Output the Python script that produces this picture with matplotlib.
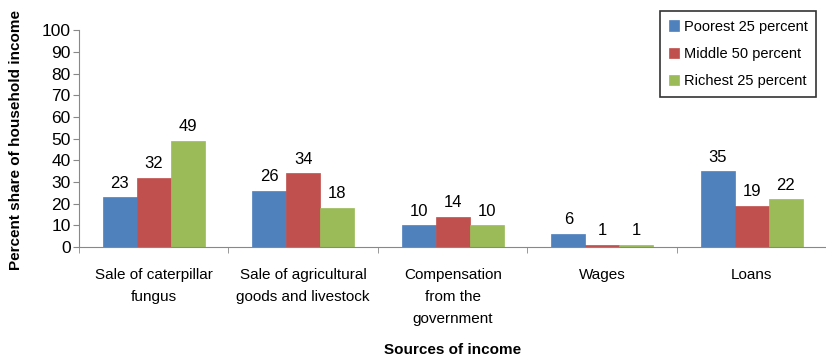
import matplotlib
matplotlib.use("Agg")
import matplotlib.pyplot as plt
import numpy as np

categories = ["Sale of caterpillar\nfungus", "Sale of agricultural\ngoods and livestock",
              "Compensation\nfrom the\ngovernment", "Wages", "Loans"]
series_names = ["Poorest 25 percent", "Middle 50 percent", "Richest 25 percent"]
poorest = [23, 26, 10, 6, 35]
middle = [32, 34, 14, 1, 19]
richest = [49, 18, 10, 1, 22]
colors = ["#4F81BD", "#C0504D", "#9BBB59"]
yticks = list(range(0, 101, 10))

plt.rcParams['font.family'] = ['Liberation Sans', 'DejaVu Sans']

fig = plt.figure(figsize=(8.26, 3.59), dpi=100)
ax = fig.add_axes([0.0956, 0.312, 0.905, 0.604])

x = np.arange(len(categories))
w = 0.227
for i, (vals, name, c) in enumerate(zip([poorest, middle, richest], series_names, colors)):
    pos = x + (i - 1) * w
    ax.bar(pos, vals, width=w, color=c, label=name, edgecolor=c, linewidth=0.5)
    for p, v in zip(pos, vals):
        ax.text(p, v + 3, str(v), ha='center', va='bottom', fontsize=12)

ax.set_xlim(-0.5, len(categories) - 0.5)
ax.set_ylim(0, 100)
ax.set_yticks(yticks)
ax.set_yticklabels([str(t) for t in yticks], fontsize=12.5)
ax.tick_params(axis='y', length=4, color='#888888', pad=2)
ax.set_xticks(x)
ax.set_xticklabels(categories, fontsize=11, linespacing=1.75)
ax.tick_params(axis='x', length=0, pad=15)
ax.set_xticks(np.arange(-0.5, len(categories) - 0.4, 1), minor=True)
ax.tick_params(axis='x', which='minor', length=4, color='#888888')
for s in ['top', 'right']:
    ax.spines[s].set_visible(False)
for s in ['left', 'bottom']:
    ax.spines[s].set_color('#888888')

fig.text(0.019, 0.61, "Percent share of household income", rotation=90, ha='center', va='center',
         fontsize=11, fontweight='bold')
fig.text(0.548, 0.025, "Sources of income", ha='center', va='center', fontsize=11, fontweight='bold')

leg = fig.legend(loc='upper right', bbox_to_anchor=(0.997, 0.99), fontsize=10.5, frameon=True,
                 fancybox=False, edgecolor='black', handlelength=0.7, handleheight=0.7,
                 handletextpad=0.3, labelspacing=0.9, borderpad=0.6)
leg.get_frame().set_linewidth(1.2)

fig.savefig("out.png", dpi=100)
